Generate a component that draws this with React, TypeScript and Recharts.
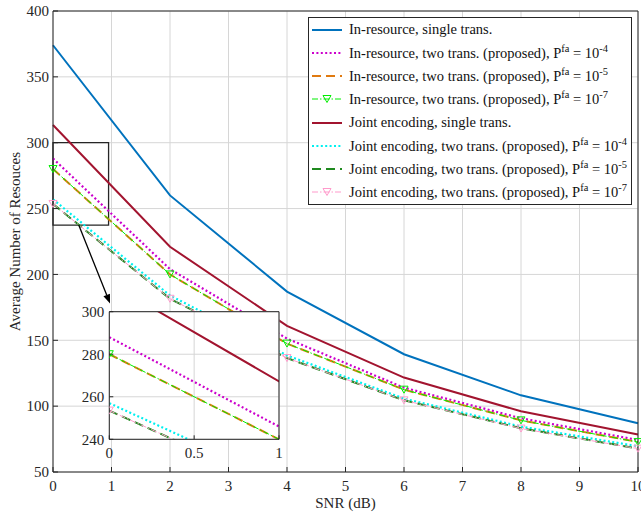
import React from 'react';
import { LineChart, Line, XAxis, YAxis, CartesianGrid, ReferenceArea, ReferenceLine } from 'recharts';

// SNR points where the curves were sampled
const snr = [0, 2, 4, 6, 8, 10];

const inResSingle = [374, 260, 187, 139.4, 108.2, 87];
const inResTwo4 = [288, 204, 151.3, 114, 90.8, 74.3];
const inResTwo5 = [280, 200, 147.5, 112.5, 89.2, 72.8];
const inResTwo7 = [280, 200, 147.5, 112.5, 89.2, 72.7];
const jointSingle = [313.5, 221, 161, 121.7, 96.1, 78.4];
const jointTwo4 = [257, 184, 138.5, 105.7, 84.5, 69.5];
const jointTwo5 = [253.5, 181.5, 136.5, 104.4, 83.2, 67.8];
const jointTwo7 = [253.5, 181.5, 136.5, 104.4, 83, 67.7];

const xTicks = [0, 1, 2, 3, 4, 5, 6, 7, 8, 9, 10];
const yTicks = [50, 100, 150, 200, 250, 300, 350, 400];
const insetXTicks = [0, 0.5, 1];
const insetYTicks = [240, 260, 280, 300];

const legendNames = [
  'In-resource, single trans.',
  'In-resource, two trans. (proposed)',
  'In-resource, two trans. (proposed)',
  'In-resource, two trans. (proposed)',
  'Joint encoding, single trans.',
  'Joint encoding, two trans. (proposed)',
  'Joint encoding, two trans. (proposed)',
  'Joint encoding, two trans. (proposed)',
];
const pfaExp = ['', '-4', '-5', '-7', '', '-4', '-5', '-7'];

const FONT = '"Liberation Serif", "Times New Roman", serif';
const AXIS = '#262626';

const series = [
  { key: 's0', values: inResSingle, color: '#0072BD', dash: undefined, width: 2, marker: false },
  { key: 's1', values: inResTwo4, color: '#CC00CC', dash: '2 2.4', width: 2.2, marker: false },
  { key: 's2', values: inResTwo5, color: '#E07A10', dash: '9 5', width: 2, marker: false },
  { key: 's3', values: inResTwo7, color: '#00EE00', dash: '6 2 1.5 2', width: 1, marker: true },
  { key: 's4', values: jointSingle, color: '#A2142F', dash: undefined, width: 2, marker: false },
  { key: 's5', values: jointTwo4, color: '#00F0F0', dash: '2 2.4', width: 2.2, marker: false },
  { key: 's6', values: jointTwo5, color: '#1F8A1F', dash: '9 5', width: 2, marker: false },
  { key: 's7', values: jointTwo7, color: '#FF9ACB', dash: '6 2 1.5 2', width: 1, marker: true },
];

const rows = snr.map((x, i) => {
  const r: Record<string, number> = { snr: x };
  series.forEach((s) => (r[s.key] = s.values[i]));
  return r;
});

const triDown = (color: string) => (props: any) => {
  const { cx, cy, index } = props;
  if (cx == null || cy == null) return <g key={index} />;
  return (
    <polygon
      key={index}
      points={`${cx - 4},${cy - 3.5} ${cx + 4},${cy - 3.5} ${cx},${cy + 3.5}`}
      fill="none"
      stroke={color}
      strokeWidth={1}
    />
  );
};

const Arrow = (props: any) => {
  const { x1, y1, x2, y2 } = props;
  const ang = Math.atan2(y2 - y1, x2 - x1);
  const len = 9;
  const w = 3.5;
  const bx = x2 - len * Math.cos(ang);
  const by = y2 - len * Math.sin(ang);
  const px = -Math.sin(ang) * w;
  const py = Math.cos(ang) * w;
  return (
    <g>
      <line x1={x1} y1={y1} x2={bx} y2={by} stroke="#000" strokeWidth={1.3} />
      <polygon points={`${x2},${y2} ${bx + px},${by + py} ${bx - px},${by - py}`} fill="#000" />
    </g>
  );
};

const tickStyle = { fill: AXIS, fontSize: 15, fontFamily: FONT };

const renderLines = () =>
  series.map((s) => (
    <Line
      key={s.key}
      type="linear"
      dataKey={s.key}
      stroke={s.color}
      strokeWidth={s.width}
      strokeDasharray={s.dash}
      dot={s.marker ? triDown(s.color) : false}
      activeDot={false}
      isAnimationActive={false}
    />
  ));

const LegendSample = ({ s }: { s: (typeof series)[number] }) => (
  <svg width={32} height={12} style={{ flex: 'none' }}>
    <line x1={1} y1={6} x2={31} y2={6} stroke={s.color} strokeWidth={s.width} strokeDasharray={s.dash} />
    {s.marker && (
      <polygon points="12,2.5 20,2.5 16,9.5" fill="none" stroke={s.color} strokeWidth={1} />
    )}
  </svg>
);

const Sup = ({ children }: { children: React.ReactNode }) => (
  <span style={{ fontSize: '0.72em', position: 'relative', top: '-0.55em', lineHeight: 0 }}>{children}</span>
);

export default function App() {
  return (
    <div style={{ position: 'absolute', left: 0, top: 0, width: 641, height: 517, fontFamily: FONT, background: '#fff' }}>
      <LineChart width={641} height={517} data={rows} margin={{ top: 10, right: 2, bottom: 0, left: 0 }}>
        <CartesianGrid stroke="#d6d6d6" strokeWidth={1} />
        <XAxis
          dataKey="snr"
          type="number"
          domain={[0, 10]}
          ticks={xTicks}
          height={45}
          stroke={AXIS}
          tickSize={-5}
          tickMargin={13}
          tick={tickStyle}
          interval={0}
          label={{ value: 'SNR (dB)', position: 'insideBottom', offset: 9, fill: AXIS, fontSize: 15, fontFamily: FONT }}
        />
        <XAxis xAxisId="top" orientation="top" dataKey="snr" type="number" domain={[0, 10]} ticks={xTicks} height={1} stroke={AXIS} tickSize={-5} tick={false} />
        <YAxis
          type="number"
          domain={[50, 400]}
          ticks={yTicks}
          width={53}
          stroke={AXIS}
          tickSize={-5}
          tickMargin={9}
          tick={tickStyle}
          interval={0}
          label={{
            value: 'Average Number of Resouces',
            angle: -90,
            position: 'insideLeft',
            offset: 15,
            style: { textAnchor: 'middle' },
            fill: AXIS,
            fontSize: 15,
            fontFamily: FONT,
          }}
        />
        <YAxis yAxisId="right" orientation="right" type="number" domain={[50, 400]} ticks={yTicks} width={1} stroke={AXIS} tickSize={-5} tick={false} />
        {renderLines()}
        <ReferenceArea x1={0} x2={0.95} y1={237.5} y2={300} fill="none" stroke={AXIS} strokeWidth={1.3} fillOpacity={0} />
        <ReferenceLine
          segment={[
            { x: 0.44, y: 237.5 },
            { x: 0.975, y: 178 },
          ]}
          shape={Arrow}
        />
      </LineChart>

      <div style={{ position: 'absolute', left: 70, top: 300 }}>
        <LineChart width={220} height={165} data={rows} margin={{ top: 10.7, right: 10, bottom: 0, left: 0 }}>
          <CartesianGrid stroke="#d6d6d6" strokeWidth={1} fill="#fff" fillOpacity={1} />
          <XAxis
            dataKey="snr"
            type="number"
            domain={[0, 1]}
            ticks={insetXTicks}
            allowDataOverflow
            height={25.7}
            stroke={AXIS}
            tickSize={-4}
            tickMargin={12}
            tick={tickStyle}
            interval={0}
          />
          <XAxis xAxisId="top" orientation="top" dataKey="snr" type="number" domain={[0, 1]} ticks={insetXTicks} allowDataOverflow height={1} stroke={AXIS} tickSize={-4} tick={false} />
          <YAxis
            type="number"
            domain={[240, 300]}
            ticks={insetYTicks}
            allowDataOverflow
            width={39.3}
            stroke={AXIS}
            tickSize={-4}
            tickMargin={9}
            tick={tickStyle}
            interval={0}
          />
          <YAxis yAxisId="right" orientation="right" type="number" domain={[240, 300]} ticks={insetYTicks} allowDataOverflow width={1} stroke={AXIS} tickSize={-4} tick={false} />
          {renderLines()}
        </LineChart>
      </div>

      <div
        style={{
          position: 'absolute',
          left: 308,
          top: 17,
          width: 322,
          height: 186,
          border: `1px solid ${AXIS}`,
          background: '#fff',
          fontSize: 14.5,
          color: '#111',
        }}
      >
        {series.map((s, i) => (
          <div key={s.key} style={{ display: 'flex', alignItems: 'center', height: 23.25, paddingLeft: 2, lineHeight: 1, whiteSpace: 'nowrap' }}>
            <LegendSample s={s} />
            <span style={{ marginLeft: 6 }}>
              {legendNames[i]}
              {pfaExp[i] && (
                <>
                  , P<Sup>fa</Sup> = 10<Sup>{pfaExp[i]}</Sup>
                </>
              )}
            </span>
          </div>
        ))}
      </div>
    </div>
  );
}
